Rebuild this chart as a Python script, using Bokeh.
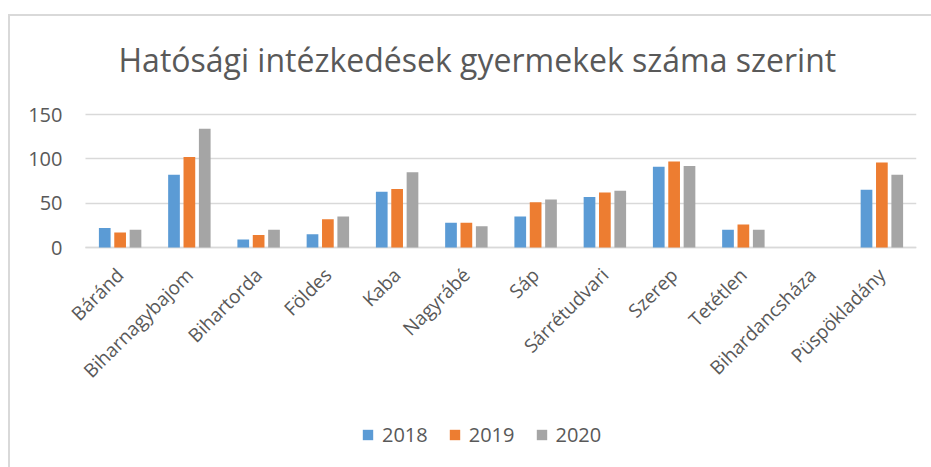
from bokeh.plotting import figure
from bokeh.models import ColumnDataSource, FixedTicker, Legend, LegendItem, Range1d
from bokeh.transform import dodge
from bokeh.embed import file_html
from bokeh.resources import INLINE
import math

categories = ["Báránd", "Biharnagybajom", "Bihartorda", "Földes", "Kaba", "Nagyrábé",
              "Sáp", "Sárrétudvari", "Szerep", "Tetétlen", "Bihardancsháza", "Püspökladány"]
y2018 = [22, 82, 9, 15, 63, 28, 35, 57, 91, 20, 0, 65]
y2019 = [17, 102, 14, 32, 66, 28, 51, 62, 97, 26, 0, 96]
y2020 = [20, 134, 20, 35, 85, 24, 54, 64, 92, 20, 0, 82]
series_names = ["2018", "2019", "2020"]
y_ticks = [0, 50, 100, 150]
title_text = "Hatósági intézkedések gyermekek száma szerint"

colors = ["#5B9BD5", "#ED7D31", "#A5A5A5"]
FONT = "Open Sans"
TXT = "#595959"
BORDER = "#D9D9D9"

# ---- geometry (pixels) ----
CW, CH = 931, 467
PLOT_L, PLOT_R = 85, 916      # plot area (category band) left / right
FRAME_L = 20                  # frame starts further left so labels are not clipped
FT = 100                      # frame top
ZERO_Y = 247                  # pixel row of value 0
AX_PX = 133.0                 # pixel height of the 0..150 band
n = len(categories)
cat_px = (PLOT_R - PLOT_L) / n
FW = PLOT_R - FRAME_L
FH = CH - FT
px_per_unit = AX_PX / 150.0
x_start = -0.5 - (PLOT_L - FRAME_L) / cat_px
x_end = n - 0.5
y_end = (ZERO_Y - FT) / px_per_unit
y_start = -(CH - ZERO_Y) / px_per_unit

src = ColumnDataSource(dict(idx=list(range(n)), cat=categories,
                            y2018=y2018, y2019=y2019, y2020=y2020))

p = figure(x_range=Range1d(x_start, x_end), y_range=Range1d(y_start, y_end),
           frame_width=FW, frame_height=FH,
           min_border_left=FRAME_L, min_border_right=CW - PLOT_R,
           min_border_top=FT, min_border_bottom=0,
           output_backend="svg", toolbar_location=None)
p.border_fill_alpha = 0
p.background_fill_alpha = 0
p.styles = {
    "background": (f"linear-gradient({BORDER},{BORDER}) 8px 14px / 2px calc(100% - 14px) no-repeat, "
                   f"linear-gradient({BORDER},{BORDER}) 8px 14px / calc(100% - 8px) 2px no-repeat, white"),
}

p.title.text = title_text
p.title.align = "left"
p.title.offset = 33 + (PLOT_L - FRAME_L)
p.title.standoff = 39
p.title.text_font = FONT
p.title.text_font_size = "32px"
p.title.text_font_style = "normal"
p.title.text_color = TXT

renderers = []
for i, (key, name) in enumerate(zip(["y2018", "y2019", "y2020"], series_names)):
    r = p.vbar(x=dodge("idx", (i - 1) * 0.222), top=key, bottom=0, width=0.169,
               source=src, fill_color=colors[i], line_color=None)
    renderers.append((name, r))

# y axis at the left edge of the category band; its inward ticks act as gridlines
p.yaxis.fixed_location = -0.5
p.yaxis.level = "underlay"
p.yaxis.ticker = FixedTicker(ticks=y_ticks)
p.yaxis.axis_line_color = None
p.yaxis.major_tick_in = int(PLOT_R - PLOT_L)
p.yaxis.major_tick_out = 0
p.yaxis.major_tick_line_color = BORDER
p.yaxis.major_tick_line_width = 1.5
p.yaxis.minor_tick_line_color = None
p.yaxis.major_label_standoff = 23
p.yaxis.major_label_text_font = FONT
p.yaxis.major_label_text_font_size = "20px"
p.yaxis.major_label_text_color = TXT

# category axis along the value 0
p.xaxis.fixed_location = 0
p.xaxis.level = "underlay"
p.xaxis.bounds = (-0.5, n - 0.5)
p.xaxis.ticker = FixedTicker(ticks=list(range(n)))
p.xaxis.major_label_overrides = {i: c for i, c in enumerate(categories)}
p.xaxis.axis_line_color = BORDER
p.xaxis.axis_line_width = 1.5
p.xaxis.major_tick_line_color = None
p.xaxis.minor_tick_line_color = None
p.xaxis.major_label_orientation = math.pi / 4
p.xaxis.major_label_standoff = 18
p.xaxis.major_label_text_font = FONT
p.xaxis.major_label_text_font_size = "19px"
p.xaxis.major_label_text_color = TXT

p.xgrid.grid_line_color = None
p.ygrid.grid_line_color = None
p.outline_line_color = None

legend = Legend(items=[LegendItem(label=nm, renderers=[r]) for nm, r in renderers],
                orientation="horizontal", location=(276 + (PLOT_L - FRAME_L), 19),
                glyph_width=13, glyph_height=13, label_standoff=8, spacing=20,
                padding=5, margin=0,
                label_text_font=FONT, label_text_font_size="20px", label_text_color=TXT,
                border_line_color=None, background_fill_alpha=0)
p.add_layout(legend, "center")

open("out.html", "w").write(file_html(p, INLINE))
